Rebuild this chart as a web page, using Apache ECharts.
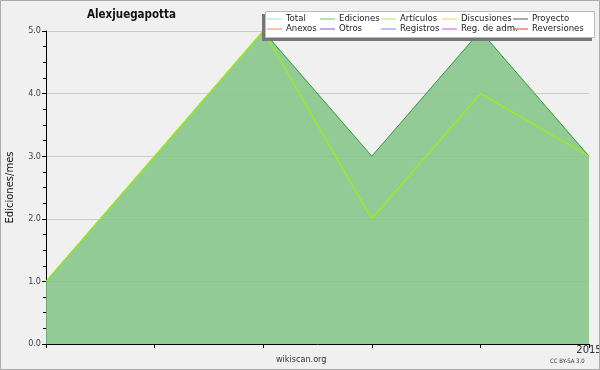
<!DOCTYPE html>
<html><head><meta charset="utf-8">
<script src="https://cdn.jsdelivr.net/npm/echarts@6/dist/echarts.min.js"></script>
<style>html,body{margin:0;padding:0;background:#f0f0f0}#c{width:600px;height:370px;}</style>
</head><body><div id="c"></div>
<script>
const categories = ['', '', '', '', '', '2015'];
const ediciones = [1, 3, 5, 3, 5, 3];
const articulos = [1, 3, 5, 2, 4, 3];
const legendCols = [['Total', 'Anexos'], ['Ediciones', 'Otros'], ['Artículos', 'Registros'], ['Discusiones', 'Reg. de adm.'], ['Proyecto', 'Reversiones']];
const legendColors = {
  'Total': '#9fdcd8', 'Ediciones': '#6cbc70', 'Artículos': '#b5e85a', 'Discusiones': '#f0d264', 'Proyecto': '#555555',
  'Anexos': '#f0875a', 'Otros': '#8b4ee0', 'Registros': '#7585ef', 'Reg. de adm.': '#c456e0', 'Reversiones': '#e03a3a'
};
const legendLeft = [267, 320, 381, 442, 513];
const F = 'DejaVu Sans';
const FC = 'DejaVu Sans Condensed';

const chart = echarts.init(document.getElementById('c'));
const series = [];
Object.keys(legendColors).forEach(n => {
  if (n === 'Ediciones') {
    series.push({ name: n, type: 'line', data: ediciones, symbol: 'none', z: 2,
      lineStyle: { color: '#2f9a36', width: 1 }, itemStyle: { color: legendColors[n] },
      areaStyle: { color: 'rgb(129,196,134)', opacity: 0.85 } });
  } else if (n === 'Artículos') {
    series.push({ name: n, type: 'line', data: articulos, symbol: 'none', z: 3,
      lineStyle: { color: '#9cef14', width: 1.3 }, itemStyle: { color: legendColors[n] } });
  } else {
    series.push({ name: n, type: 'line', data: [], symbol: 'none', itemStyle: { color: legendColors[n] }, lineStyle: { color: legendColors[n] } });
  }
});

chart.setOption({
  backgroundColor: '#f0f0f0',
  animation: false,
  title: { text: 'Alexjuegapotta', left: 87, top: 9, padding: 0, textStyle: { fontFamily: FC, fontSize: 11.5, fontWeight: 'bold', color: '#111' } },
  grid: { left: 46, right: 11, top: 31, bottom: 26, containLabel: false, outerBoundsMode: 'none' },
  legend: legendCols.map((col, i) => ({
    data: col, orient: 'vertical', left: legendLeft[i], top: 14, itemGap: 0, zlevel: 1, z: 20,
    itemWidth: 15, itemHeight: 10, itemSymbolKeepAspect: false, icon: 'path://M0,4.5L15,4.5L15,5.5L0,5.5Z', selectedMode: false,
    textStyle: { fontFamily: FC, fontSize: 9.5, color: '#222', padding: [0, 0, 0, -1] }, padding: 0
  })),
  xAxis: { type: 'category', data: categories, boundaryGap: false,
    axisLine: { lineStyle: { color: '#000', width: 1 } },
    axisTick: { show: true, length: 4, interval: 0, lineStyle: { color: '#000' } },
    axisLabel: { interval: 0, fontFamily: F, fontSize: 10, color: '#333', margin: 1, showMaxLabel: true },
    splitLine: { show: false } },
  yAxis: { type: 'value', min: 0, max: 5, interval: 1,
    name: 'Ediciones/mes', nameLocation: 'middle', nameGap: 31,
    nameTextStyle: { fontFamily: F, fontSize: 10, color: '#111' },
    axisLine: { show: true, lineStyle: { color: '#000' } },
    axisTick: { show: true, length: 4, lineStyle: { color: '#000' } },
    minorTick: { show: true, splitNumber: 4, length: 3, lineStyle: { color: '#000' } },
    axisLabel: { fontFamily: FC, fontSize: 9, color: '#444', margin: 5, formatter: v => v.toFixed(1) },
    splitLine: { show: true, lineStyle: { color: '#cccccc', width: 1 } } },
  series: series,
  graphic: [
    { type: 'rect', shape: { x: 0.5, y: 0.5, width: 599, height: 369 }, style: { fill: 'none', stroke: '#aaaaaa', lineWidth: 1 }, z: 100, silent: true },
    { type: 'rect', shape: { x: 262, y: 14, width: 330, height: 27 }, style: { fill: '#777777' }, z: 50 },
    { type: 'rect', shape: { x: 265.5, y: 11.5, width: 329, height: 26 }, style: { fill: '#ffffff', stroke: '#bbbbbb', lineWidth: 1 }, z: 51 },
    { type: 'text', left: 276, top: 355, style: { text: 'wikiscan.org', font: '9px "DejaVu Sans Condensed"', fill: '#333' } },
    { type: 'text', left: 550, top: 358, style: { text: 'CC BY-SA 3.0', font: '6px "DejaVu Sans Condensed"', fill: '#333' } }
  ]
});
</script></body></html>
